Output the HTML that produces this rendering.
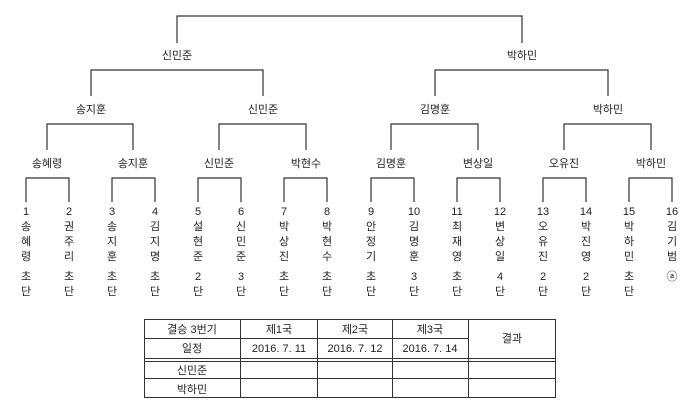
<!DOCTYPE html>
<html><head><meta charset="utf-8"><style>
body{margin:0;background:#fff}
svg text{font-family:"Liberation Sans","Noto Sans CJK KR",sans-serif;font-size:11px;fill:#222;text-anchor:middle}
</style></head><body>
<svg width="700" height="412" xmlns="http://www.w3.org/2000/svg">
<g stroke="#333" stroke-width="1.2" fill="none">
<path d="M177 43V16H522V43"/>
<path d="M91 96V70H263V96M435 96V70H608V96"/>
<path d="M47 150V124H133V150M219 150V124H306V150M391 150V124H478V150M564 150V124H651V150"/>
<path d="M26 202V178H69V202M112 202V178H155V202M198 202V178H241V202M284 202V178H327V202M371 202V178H414V202M457 202V178H500V202M543 202V178H586V202M629 202V178H672V202"/>
</g>
<text x="177" y="59">신민준</text><text x="522" y="59">박하민</text>
<text x="91" y="113">송지훈</text><text x="263" y="113">신민준</text><text x="435" y="113">김명훈</text><text x="608" y="113">박하민</text>
<text x="47" y="167">송혜령</text><text x="133" y="167">송지훈</text><text x="219" y="167">신민준</text><text x="306" y="167">박현수</text>
<text x="391" y="167">김명훈</text><text x="478" y="167">변상일</text><text x="564" y="167">오유진</text><text x="651" y="167">박하민</text>
<g font-size="10">
<text x="26" y="215">1</text><text x="69" y="215">2</text><text x="112" y="215">3</text><text x="155" y="215">4</text><text x="198" y="215">5</text><text x="241" y="215">6</text><text x="284" y="215">7</text><text x="327" y="215">8</text>
<text x="371" y="215">9</text><text x="414" y="215">10</text><text x="457" y="215">11</text><text x="500" y="215">12</text><text x="543" y="215">13</text><text x="586" y="215">14</text><text x="629" y="215">15</text><text x="672" y="215">16</text>
</g>
<g>
<text x="26" y="230">송</text><text x="26" y="245">혜</text><text x="26" y="260">령</text>
<text x="69" y="230">권</text><text x="69" y="245">주</text><text x="69" y="260">리</text>
<text x="112" y="230">송</text><text x="112" y="245">지</text><text x="112" y="260">훈</text>
<text x="155" y="230">김</text><text x="155" y="245">지</text><text x="155" y="260">명</text>
<text x="198" y="230">설</text><text x="198" y="245">현</text><text x="198" y="260">준</text>
<text x="241" y="230">신</text><text x="241" y="245">민</text><text x="241" y="260">준</text>
<text x="284" y="230">박</text><text x="284" y="245">상</text><text x="284" y="260">진</text>
<text x="327" y="230">박</text><text x="327" y="245">현</text><text x="327" y="260">수</text>
<text x="371" y="230">안</text><text x="371" y="245">정</text><text x="371" y="260">기</text>
<text x="414" y="230">김</text><text x="414" y="245">명</text><text x="414" y="260">훈</text>
<text x="457" y="230">최</text><text x="457" y="245">재</text><text x="457" y="260">영</text>
<text x="500" y="230">변</text><text x="500" y="245">상</text><text x="500" y="260">일</text>
<text x="543" y="230">오</text><text x="543" y="245">유</text><text x="543" y="260">진</text>
<text x="586" y="230">박</text><text x="586" y="245">진</text><text x="586" y="260">영</text>
<text x="629" y="230">박</text><text x="629" y="245">하</text><text x="629" y="260">민</text>
<text x="672" y="230">김</text><text x="672" y="245">기</text><text x="672" y="260">범</text>
</g>
<g font-size="10">
<text x="26" y="280">초</text><text x="26" y="295">단</text>
<text x="69" y="280">초</text><text x="69" y="295">단</text>
<text x="112" y="280">초</text><text x="112" y="295">단</text>
<text x="155" y="280">초</text><text x="155" y="295">단</text>
<text x="198" y="280">2</text><text x="198" y="295">단</text>
<text x="241" y="280">3</text><text x="241" y="295">단</text>
<text x="284" y="280">초</text><text x="284" y="295">단</text>
<text x="327" y="280">초</text><text x="327" y="295">단</text>
<text x="371" y="280">초</text><text x="371" y="295">단</text>
<text x="414" y="280">3</text><text x="414" y="295">단</text>
<text x="457" y="280">초</text><text x="457" y="295">단</text>
<text x="500" y="280">4</text><text x="500" y="295">단</text>
<text x="543" y="280">2</text><text x="543" y="295">단</text>
<text x="586" y="280">2</text><text x="586" y="295">단</text>
<text x="629" y="280">초</text><text x="629" y="295">단</text>
<text x="672" y="280">ⓐ</text>
</g>
<g stroke="#333" stroke-width="1" fill="none">
<rect x="144.5" y="319.5" width="411" height="78"/>
<path d="M144 338.5H468M144 358.5H556M144 361.5H556M144 378.5H556"/>
<path d="M240.5 319V398M317.5 319V398M392.5 319V398M468.5 319V398"/>
</g>
<text x="192" y="333">결승 3번기</text><text x="279" y="333">제1국</text><text x="355" y="333">제2국</text><text x="430" y="333">제3국</text>
<text x="512" y="342">결과</text>
<text x="192" y="352">일정</text><text x="279" y="352">2016. 7. 11</text><text x="355" y="352">2016. 7. 12</text><text x="430" y="352">2016. 7. 14</text>
<text x="192" y="374">신민준</text><text x="192" y="393">박하민</text>
</svg>
</body></html>
